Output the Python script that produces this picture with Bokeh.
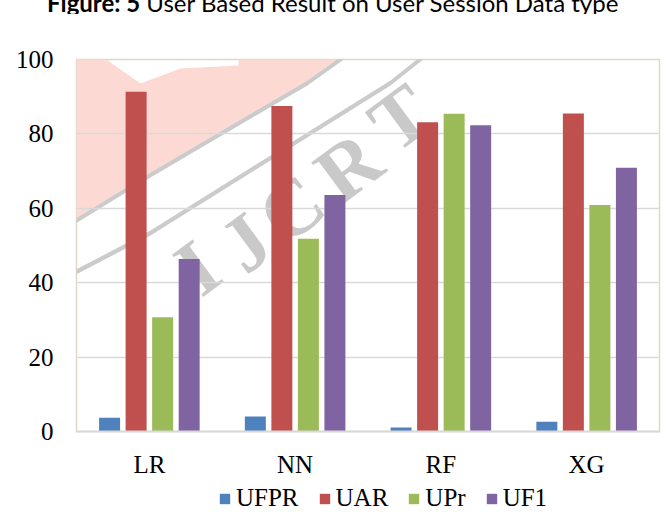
from bokeh.plotting import figure
from bokeh.layouts import column
from bokeh.models import (ColumnDataSource, FactorRange, Range1d, FixedTicker,
                          Legend, LegendItem, Label, PolyAnnotation, Div)
from bokeh.transform import dodge
from bokeh.embed import file_html
from bokeh.resources import INLINE

# ---- data -------------------------------------------------------------
models = ["LR", "NN", "RF", "XG"]
series = ["UFPR", "UAR", "UPr", "UF1"]
ufpr = [3.7, 4.0, 1.1, 2.6]
uar = [91.3, 87.5, 83.1, 85.5]
upr = [30.7, 51.8, 85.4, 60.9]
uf1 = [46.4, 63.6, 82.3, 70.9]
y_ticks = [0, 20, 40, 60, 80, 100]

title_bold = "Figure: 5"
title_rest = "User Based Result on User Session Data type"
watermark = "IJCRT"

# ---- styling ----------------------------------------------------------
colors = ["#4F81BD", "#C0504D", "#9BBB59", "#8064A2"]
offsets = [-0.273, -0.091, 0.091, 0.273]
bar_width = 0.144
serif = "Liberation Serif"
W = 667
HEAD_H, MAIN_H, FOOT_H = 14, 466, 42

# watermark outline, in page pixels from the top-left corner
pink_x = [0, 67, 80, 100, 140, 180, 238, 238, 405, 377, 307, 230, 150, 75, 45, 20, 5, 0]
pink_y = [0, 0, 35, 55, 83, 68, 65, 0, 0, 30, 80, 125, 172, 218, 228, 226, 210, 190]
arc1_x = [405, 377, 307, 230, 150, 75, 45, 20]
arc1_y = [0, 30, 80, 125, 172, 218, 228, 226]
arc2_x = [477, 453, 390, 270, 150, 70, 0]
arc2_y = [0, 30, 80, 155, 230, 272, 293]
letter_pos = [(197, 267), (245, 242), (291, 208), (348, 166), (400, 117)]


def band(px, py, thick):
    xs = list(px) + list(reversed(px))
    ys = list(py) + [y + thick for y in reversed(py)]
    return xs, ys


def add_watermark(fig, dy):
    """Pale logo behind the chart; dy shifts page rows into this canvas."""
    fig.add_layout(PolyAnnotation(xs=pink_x, ys=[y - dy for y in pink_y],
                                  xs_units="canvas", ys_units="canvas",
                                  fill_color="#fcd9d2", fill_alpha=1.0,
                                  line_color=None, level="image"))
    for ax, ay in ((arc1_x, arc1_y), (arc2_x, arc2_y)):
        bx, by = band(ax, ay, 5)
        fig.add_layout(PolyAnnotation(xs=bx, ys=[y - dy for y in by],
                                      xs_units="canvas", ys_units="canvas",
                                      fill_color="#cbcbcb", fill_alpha=1.0,
                                      line_color=None, level="image"))
    for ch, (lx, ly) in zip(watermark, letter_pos):
        fig.add_layout(Label(x=lx, y=ly - dy, x_units="canvas", y_units="canvas",
                             text=ch, angle=36.5, angle_units="deg",
                             text_align="center", text_baseline="middle",
                             text_font=serif, text_font_style="bold",
                             text_font_size="80px", text_color="#c9c9c9",
                             level="image"))


# ---- heading strip (only the lower part of the line is visible) -------
head = Div(
    text=('<div style="margin:-13px 0 0 47px; white-space:nowrap; '
          'font-family:Lato; font-size:24px; line-height:24px; color:black;">'
          f'<b>{title_bold}</b> {title_rest}</div>'),
    width=W, height=HEAD_H, margin=0,
    styles={"overflow": "hidden", "background-color": "white"})

# ---- main chart -------------------------------------------------------
src = ColumnDataSource(dict(model=models, UFPR=ufpr, UAR=uar, UPr=upr, UF1=uf1))

p = figure(width=W, height=MAIN_H,
           x_range=FactorRange(*models), y_range=Range1d(0, 100),
           output_backend="svg", toolbar_location=None,
           min_border_left=76, min_border_right=8,
           min_border_top=59 - HEAD_H, min_border_bottom=47)
p.background_fill_color = "white"
p.border_fill_color = "white"
p.outline_line_color = "#ddd9c3"
p.outline_line_width = 1.5
add_watermark(p, HEAD_H)

for name, col, off in zip(series, colors, offsets):
    p.vbar(x=dodge("model", off, range=p.x_range), top=name, width=bar_width,
           source=src, fill_color=col, line_color=None)

p.xgrid.grid_line_color = None
p.ygrid.grid_line_color = "#d9d9d9"
p.ygrid.grid_line_width = 1.5
p.yaxis.ticker = FixedTicker(ticks=y_ticks)

p.yaxis.axis_line_color = None
p.yaxis.major_tick_line_color = None
p.yaxis.minor_tick_line_color = None
p.yaxis.major_label_standoff = 17
p.yaxis.major_label_text_font = serif
p.yaxis.major_label_text_font_size = "25px"
p.yaxis.major_label_text_color = "black"

p.xaxis.axis_line_color = "#d9d9d9"
p.xaxis.axis_line_width = 2
p.xaxis.major_tick_line_color = None
p.xaxis.minor_tick_line_color = None
p.xaxis.major_label_standoff = 13
p.xaxis.major_label_text_font = serif
p.xaxis.major_label_text_font_size = "25px"
p.xaxis.major_label_text_color = "black"

# ---- legend strip (frame lines up with the chart frame) ---------------
foot = figure(width=W, height=FOOT_H, output_backend="svg", toolbar_location=None,
              x_range=Range1d(0, 1), y_range=Range1d(0, 1),
              x_axis_location=None, y_axis_location=None,
              min_border_left=76, min_border_right=8,
              min_border_top=0, min_border_bottom=0)
foot.outline_line_color = None
foot.background_fill_color = "white"
foot.border_fill_color = "white"
foot.grid.visible = False
swatches = [foot.vbar(x=[-5], top=[0], width=0.1, fill_color=col, line_color=None)
            for col in colors]
legend = Legend(items=[LegendItem(label=s, renderers=[r]) for s, r in zip(series, swatches)],
                orientation="horizontal", location=(142, 10),
                glyph_width=13, glyph_height=13, label_standoff=5, spacing=19,
                padding=0, margin=0, border_line_color=None,
                background_fill_alpha=0,
                label_text_font=serif, label_text_font_size="25px",
                label_text_color="black")
foot.add_layout(legend)

page = column(head, p, foot, spacing=0)

with open("out.html", "w") as f:
    f.write(file_html(page, INLINE))
